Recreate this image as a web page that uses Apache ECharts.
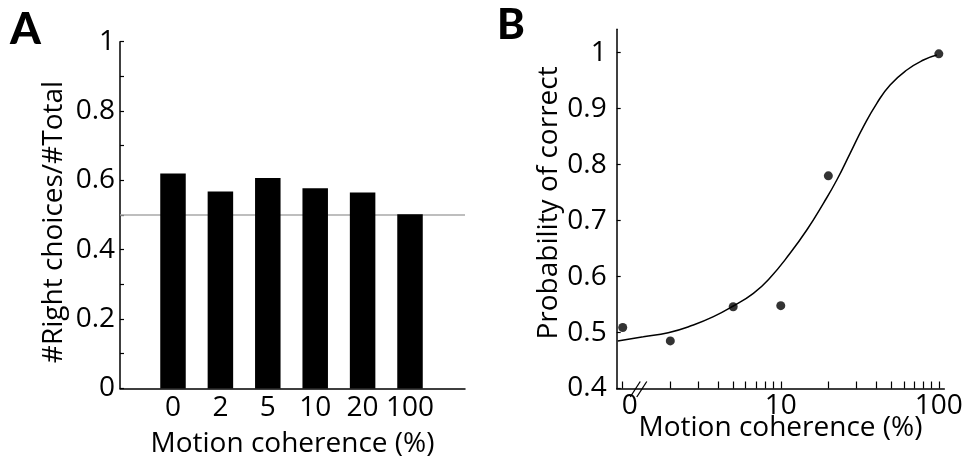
<!DOCTYPE html>
<html>
<head>
<meta charset="utf-8">
<script src="https://cdn.jsdelivr.net/npm/echarts@6/dist/echarts.min.js"></script>
<style>
  html, body { margin: 0; padding: 0; background: #fff; }
  #chart { width: 965px; height: 459px; }
</style>
</head>
<body>
<div id="chart"></div>
<script>
// ---- Panel A: fraction of right choices at each coherence level ----
const coherenceLabels = ['0', '2', '5', '10', '20', '100'];
const rightChoiceRatio = [0.620, 0.568, 0.607, 0.577, 0.565, 0.502];
const chanceLevel = 0.5;
const ratioTickValues = [0, 0.1, 0.2, 0.3, 0.4, 0.5, 0.6, 0.7, 0.8, 0.9, 1];
const ratioLabelValues = [0, 0.2, 0.4, 0.6, 0.8, 1];

// ---- Panel B: probability correct vs coherence (log axis, 0% drawn at 1) ----
const coherenceValues = [1, 2, 5, 10, 20, 100];
const probCorrect = [0.509, 0.485, 0.546, 0.548, 0.780, 0.998];
const fitCoherence = [0.93, 1.35, 1.94, 2.80, 3.75, 5.01, 6.71, 8.37, 11.45, 14.61,
                      18.61, 22.62, 27.46, 33.33, 40.52, 49.19, 62.73, 79.89, 97.1];
const fitProb = [0.485, 0.4925, 0.4997, 0.5135, 0.5283, 0.5474, 0.5701, 0.5948, 0.6416, 0.6832,
                 0.7309, 0.7725, 0.8202, 0.8678, 0.9096, 0.9423, 0.9691, 0.9869, 0.9958];
const logTickValues = [1, 2, 3, 4, 5, 6, 7, 8, 9, 10, 20, 30, 40, 50, 60, 70, 80, 90, 100];
const logLabelValues = [1, 10, 100];
const logLabelText = ['0', '10', '100'];
const probTickValues = [0.4, 0.5, 0.6, 0.7, 0.8, 0.9, 1];
const axisBreakAt = [1.2, 1.32];

const FONT = 'Open Sans';
const FS = 28;
const black = '#000';

const chart = echarts.init(document.getElementById('chart'), null, { renderer: 'canvas' });

const axisLine = { show: true, onZero: false, lineStyle: { color: black, width: 1.5 } };
const labelStyle = { color: black, fontFamily: FONT, fontSize: FS };

const option = {
  animation: false,
  backgroundColor: '#fff',
  grid: [
    { left: 120, top: 41.7, width: 345, height: 346.7, outerBoundsMode: 'none', containLabel: false },
    { left: 616.7, top: 29.3, width: 327.6, height: 359.2, outerBoundsMode: 'none', containLabel: false }
  ],
  xAxis: [
    {
      gridIndex: 0, type: 'value', min: -1.118, max: 6.16,
      axisLine: axisLine,
      axisTick: { show: false },
      splitLine: { show: false },
      axisLabel: Object.assign({}, labelStyle, {
        customValues: coherenceLabels.map((_, i) => i),
        formatter: v => coherenceLabels[Math.round(v)],
        margin: 6
      }),
      name: 'Motion coherence (%)', nameLocation: 'middle', nameGap: 42,
      nameMoveOverlap: false,
      nameTextStyle: labelStyle
    },
    {
      gridIndex: 1, type: 'log', logBase: 10, min: 0.916, max: 108.3,
      axisLine: axisLine,
      axisTick: { show: true, inside: true, length: 7, customValues: logTickValues,
                  lineStyle: { color: black, width: 1.2 } },
      splitLine: { show: false },
      minorTick: { show: false },
      axisLabel: Object.assign({}, labelStyle, {
        customValues: logLabelValues,
        formatter: v => {
          const i = logLabelValues.findIndex(t => Math.abs(t - v) < 1e-6);
          return i === 0 ? '{z|' + logLabelText[i] + '}' : logLabelText[i];
        },
        rich: { z: { fontFamily: FONT, fontSize: FS, color: black, padding: [0, 0, 0, 14] } },
        margin: 4
      }),
      name: 'Motion coherence (%)', nameLocation: 'middle', nameGap: 26,
      nameMoveOverlap: false,
      nameTextStyle: labelStyle
    }
  ],
  yAxis: [
    {
      gridIndex: 0, type: 'value', min: 0, max: 1,
      axisLine: axisLine,
      axisTick: { show: true, inside: true, length: 4, customValues: ratioTickValues,
                  lineStyle: { color: black, width: 1.2 } },
      splitLine: { show: false },
      axisLabel: Object.assign({}, labelStyle, { customValues: ratioLabelValues, margin: 5 }),
      name: '#Right choices/#Total', nameLocation: 'middle', nameGap: 52,
      nameMoveOverlap: false,
      nameTextStyle: Object.assign({}, labelStyle, { padding: [0, 14, 0, 0] })
    },
    {
      gridIndex: 1, type: 'value', min: 0.4, max: 1.0418,
      axisLine: axisLine,
      axisTick: { show: true, inside: true, length: 4, customValues: probTickValues,
                  lineStyle: { color: black, width: 1.2 } },
      splitLine: { show: false },
      axisLabel: Object.assign({}, labelStyle, { customValues: probTickValues, margin: 10 }),
      name: 'Probability of correct', nameLocation: 'middle', nameGap: 54,
      nameMoveOverlap: false,
      nameTextStyle: Object.assign({}, labelStyle, { padding: [0, 0, 0, 12] })
    }
  ],
  series: [
    {
      type: 'bar', xAxisIndex: 0, yAxisIndex: 0,
      data: rightChoiceRatio.map((v, i) => [i, v]),
      barWidth: 25.5,
      itemStyle: { color: black },
      z: 3,
      markLine: {
        silent: true, symbol: ['none', 'none'], z: 1,
        label: { show: false },
        lineStyle: { color: '#a8a8a8', width: 1.5, type: 'solid' },
        data: [{ yAxis: chanceLevel }]
      }
    },
    {
      type: 'line', xAxisIndex: 1, yAxisIndex: 1,
      data: fitCoherence.map((x, i) => [x, fitProb[i]]),
      showSymbol: false, smooth: true,
      lineStyle: { color: black, width: 1.5 },
      z: 2
    },
    {
      type: 'scatter', xAxisIndex: 1, yAxisIndex: 1,
      data: coherenceValues.map((x, i) => [x, probCorrect[i]]),
      symbolSize: 9,
      itemStyle: { color: black },
      z: 3
    }
  ]
};

chart.setOption(option);

// Panel letters and the axis-break slashes on panel B's x axis
const baseY = 0.4;
const slashes = axisBreakAt.map(v => {
  const p = chart.convertToPixel({ xAxisIndex: 1, yAxisIndex: 1 }, [v, baseY]);
  return {
    type: 'line', silent: true, z: 10,
    shape: { x1: p[0] - 5, y1: p[1] + 8.5, x2: p[0] + 5, y2: p[1] - 7 },
    style: { stroke: black, lineWidth: 1.3 }
  };
});

chart.setOption({
  graphic: [
    { type: 'text', left: 10, top: 8, style: { text: 'A', fontFamily: 'Lato', fontWeight: 900, fontSize: 44, fill: black } },
    { type: 'text', left: 497, top: 4, style: { text: 'B', fontFamily: 'Lato', fontWeight: 900, fontSize: 42, fill: black } }
  ].concat(slashes)
});
</script>
</body>
</html>
